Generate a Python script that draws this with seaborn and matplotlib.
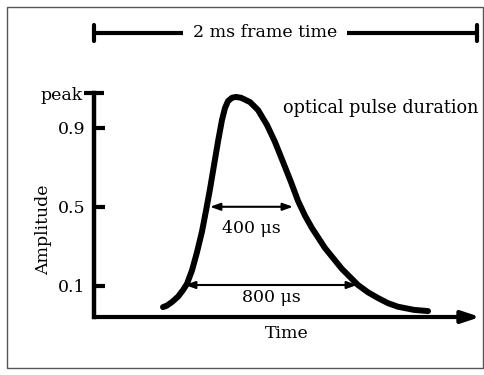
import matplotlib
matplotlib.use("Agg")
import matplotlib.pyplot as plt
import seaborn as sns
import numpy as np
import pandas as pd
from matplotlib.patches import Rectangle

# ---- data (time in microseconds, amplitude) ----
pulse_time = [345, 365, 390, 420, 445, 465, 490, 515, 540, 560, 580, 600, 620, 640,
              655, 670, 690, 710, 735, 780, 820, 865, 905, 945, 985, 1020, 1055,
              1090, 1155, 1240, 1320, 1370, 1420, 1470, 1520, 1600, 1670]
pulse_amp = [-0.008, 0.000, 0.018, 0.045, 0.078, 0.110, 0.178, 0.270, 0.375, 0.480,
             0.590, 0.710, 0.830, 0.940, 1.000, 1.035, 1.052, 1.056, 1.052, 1.030,
             0.990, 0.914, 0.828, 0.727, 0.625, 0.530, 0.455, 0.392, 0.291, 0.185,
             0.104, 0.067, 0.038, 0.012, -0.006, -0.022, -0.028]
ytick_vals = [0.1, 0.5, 0.9]
ytick_labels = ["0.1", "0.5", "0.9"]
peak_val = 1.076
peak_label = "peak"
fwhm_span = [580, 995]      # 400 us arrow
fwhm_level = 0.5
base_span = [455, 1315]     # 800 us arrow
base_level = 0.104
frame_span = [0, 1915]
frame_level = 1.38
xlim = [0, 1930]
ylim = [-0.058, peak_val]

sns.set_theme(style="white")
plt.rcParams["font.family"] = ["DejaVu Serif", "DejaVu Sans"]
plt.rcParams["mathtext.fontset"] = "dejavuserif"
plt.rcParams["text.color"] = "black"
plt.rcParams["axes.labelcolor"] = "black"
plt.rcParams["ytick.color"] = "black"

fig = plt.figure(figsize=(4.85, 3.75), dpi=100)
fig.patch.set_facecolor("white")
fig.patches.append(Rectangle((7/485, 1 - 368/375), 476/485, 361/375,
                             transform=fig.transFigure, fill=False,
                             edgecolor="#555555", lw=1.0))
ax = fig.add_axes([94/485, (375-317)/375, 386/485, (317-93)/375])
ax.set_facecolor("none")

df = pd.DataFrame({"t": pulse_time, "a": pulse_amp})
sns.lineplot(data=df, x="t", y="a", ax=ax, color="black", lw=4.3,
             solid_capstyle="round", solid_joinstyle="round")

ax.set_xlim(*xlim)
ax.set_ylim(*ylim)
for s in ["top", "right", "bottom"]:
    ax.spines[s].set_visible(False)
ax.spines["left"].set_linewidth(3.2)
ax.spines["left"].set_color("black")

ax.set_xticks([])
ax.set_yticks(ytick_vals, labels=ytick_labels)
ax.set_yticks([peak_val], labels=[peak_label], minor=True)
ax.tick_params(axis="y", which="major", direction="in", length=8, width=3,
               color="black", labelcolor="black", labelsize=12.5, pad=6, left=True)
ax.tick_params(axis="y", which="minor", direction="inout", length=14, width=3,
               color="black", labelcolor="black", labelsize=12.5, pad=1, left=True)

# x axis arrow
ax.annotate("", xy=(1.0, 0), xytext=(0, 0), xycoords="axes fraction",
            textcoords="axes fraction",
            arrowprops=dict(arrowstyle="-|>,head_length=0.9,head_width=0.3",
                            color="black", lw=3, shrinkA=0, shrinkB=0))

ax.set_xlabel("Time", fontsize=12.5, labelpad=6, color="black")
ax.set_ylabel("Amplitude", fontsize=12.5, color="black")
ax.yaxis.set_label_coords(-0.108, 0.39)

# width arrows
for span, lvl, lab, dy in [(fwhm_span, fwhm_level, "400 μs", -0.11),
                           (base_span, base_level, "800 μs", -0.065)]:
    ax.annotate("", xy=(span[1], lvl), xytext=(span[0], lvl),
                arrowprops=dict(arrowstyle="<|-|>,head_length=0.5,head_width=0.18",
                                color="black", lw=1.5, shrinkA=0, shrinkB=0))
    ax.text((span[0] + span[1]) / 2, lvl + dy, lab, ha="center", va="center",
            fontsize=12.5, color="black")

ax.text(945, 1.0, "optical pulse duration", ha="left", va="center",
        fontsize=12.7, clip_on=False, color="black")

# frame time bar
ax.plot(frame_span, [frame_level, frame_level], color="black", lw=3, clip_on=False,
        solid_capstyle="butt")
for xx in frame_span:
    ax.plot([xx, xx], [frame_level - 0.04, frame_level + 0.04], color="black",
            lw=3, clip_on=False)
ax.text(855, frame_level, "2 ms frame time", ha="center", va="center",
        fontsize=12.5, clip_on=False, color="black",
        bbox=dict(facecolor="white", edgecolor="none", pad=7))

fig.savefig("out.png", dpi=100)
